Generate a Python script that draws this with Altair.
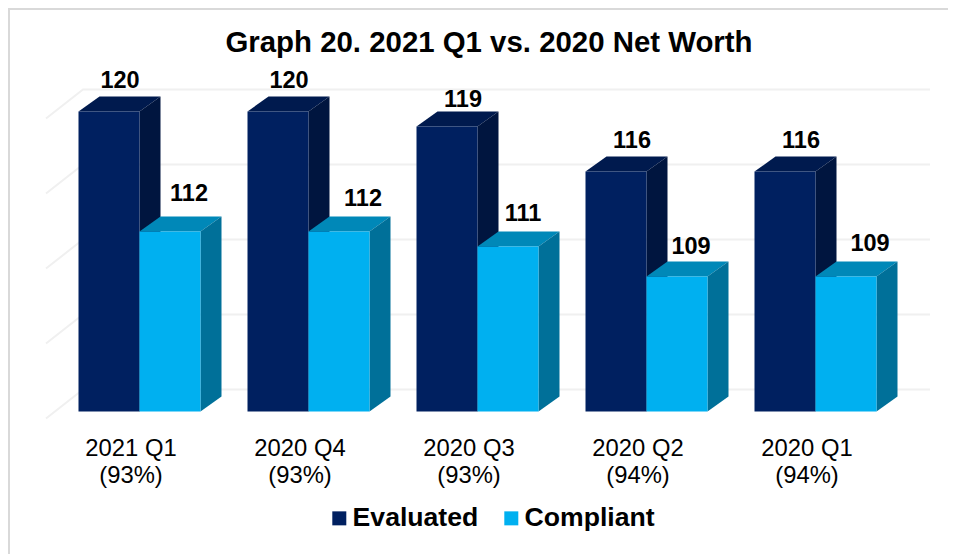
import altair as alt
import pandas as pd

categories = ["2021 Q1", "2020 Q4", "2020 Q3", "2020 Q2", "2020 Q1"]
shares = ["(93%)", "(93%)", "(93%)", "(94%)", "(94%)"]
evaluated = [120, 120, 119, 116, 116]
compliant = [112, 112, 111, 109, 109]
grid_levels = [100, 105, 110, 115, 120]

# Nudges of the hand-placed value labels, in pixels
eval_dx = [-19.5, -19.5, -14.5, -14.5, -14.5]
eval_dy = [24, 24, 20, 24, 24]
comp_dx = [49.5, 54.5, 45.5, 44.5, 54.5]
comp_dy = [31, 26, 26, 23, 26]

W, H = 940, 546
SLOT = 169.0      # px per category
UNIT = 15.0       # px per value unit
BASE = 100.0
X0, Y0 = 139.5 - 8, 411.5 - 8   # pixel of slot 0 / value BASE inside the chart
BAR = 61 / SLOT
DX = 21 / SLOT
DY = 1.0

xs = alt.Scale(domain=[-X0 / SLOT, (W - X0) / SLOT], range=[0, W], nice=False, zero=False)
ys = alt.Scale(domain=[BASE - (H - Y0) / UNIT, BASE + Y0 / UNIT], range=[H, 0], nice=False, zero=False)
X = lambda f: alt.X(f, type="quantitative", scale=xs, axis=None)
Y = lambda f: alt.Y(f, type="quantitative", scale=ys, axis=None)

series = [("Evaluated", evaluated, -BAR, "#002060", "#001a4e", "#00153f"),
          ("Compliant", compliant, 0.0, "#00B0F0", "#0088b8", "#007099")]

front, top, side = [], [], []
for name, values, off, *_ in series:
    for i, v in enumerate(values):
        l = i + off
        r = l + BAR
        key = f"{name}{i}"
        front.append(dict(s=name, x=l, x2=r, y=BASE, y2=v))
        top += [dict(s=name, k=key, y=v, x=l, x2=r),
                dict(s=name, k=key, y=v + DY, x=l + DX, x2=r + DX)]
        side += [dict(s=name, k=key, x=r, y=BASE, y2=v),
                 dict(s=name, k=key, x=r + DX, y=BASE + DY, y2=v + DY)]
front, top, side = map(pd.DataFrame, (front, top, side))

grid = []
for g in grid_levels:
    grid += [dict(g=g, o=0, x=(46 - 139.5) / SLOT, y=g - 0.47),
             dict(g=g, o=1, x=(83 - 139.5) / SLOT, y=g + 1.47),
             dict(g=g, o=2, x=(930 - 139.5) / SLOT, y=g + 1.47)]
grid = pd.DataFrame(grid)

labels = pd.DataFrame(
    [dict(x=i + eval_dx[i] / SLOT, y=v + eval_dy[i] / UNIT, t=str(v)) for i, v in enumerate(evaluated)] +
    [dict(x=i + comp_dx[i] / SLOT, y=v + comp_dy[i] / UNIT, t=str(v)) for i, v in enumerate(compliant)])

cats = pd.DataFrame(dict(x=[i - 8.5 / SLOT for i in range(5)], y=[BASE - 1.67] * 5,
                         t=[f"{c}\n{s}" for c, s in zip(categories, shares)]))

FONT = "Liberation Sans"
layers = []

layers.append(alt.Chart(pd.DataFrame(dict(a=[0]))).mark_rule(color="#d9d9d9", strokeWidth=2).encode(
    x=alt.value(1), y=alt.value(0), y2=alt.value(H)))
layers.append(alt.Chart(pd.DataFrame(dict(a=[0]))).mark_rule(color="#d9d9d9", strokeWidth=2).encode(
    x=alt.value(0), x2=alt.value(W), y=alt.value(1)))

layers.append(alt.Chart(grid).mark_line(color="#f0f0f0", strokeWidth=2).encode(
    x=X("x"), y=Y("y"), detail="g:N", order="o:Q"))

for name, _, _, c_front, c_top, c_side in series:
    layers.append(alt.Chart(top[top.s == name]).mark_area(orient="horizontal", color=c_top).encode(
        y=Y("y"), x=X("x"), x2="x2", detail="k:N"))
    layers.append(alt.Chart(side[side.s == name]).mark_area(color=c_side).encode(
        x=X("x"), y=Y("y"), y2="y2", detail="k:N"))
    layers.append(alt.Chart(front[front.s == name]).mark_bar(cornerRadius=0).encode(
        x=X("x"), x2="x2", y=Y("y"), y2="y2",
        color=alt.Color("s:N",
                        scale=alt.Scale(domain=["Evaluated", "Compliant"], range=["#002060", "#00B0F0"]),
                        legend=alt.Legend(title=None, orient="none", direction="horizontal",
                                          legendX=318, legendY=497, symbolType="square", symbolSize=196,
                                          symbolStrokeWidth=0, labelFont=FONT, labelFontSize=26.6,
                                          labelFontWeight="bold", labelColor="#000000", labelOffset=0,
                                          columnPadding=19))))

layers.append(alt.Chart(labels).mark_text(font=FONT, fontSize=23.5, fontWeight="bold", color="#000000",
                                          baseline="alphabetic", align="center").encode(
    x=X("x"), y=Y("y"), text="t:N"))
layers.append(alt.Chart(cats).mark_text(font=FONT, fontSize=23.8, color="#000000", baseline="top",
                                        align="center", lineBreak="\n", lineHeight=27.5).encode(
    x=X("x"), y=Y("y"), text="t:N"))

chart = alt.layer(*layers).properties(
    width=W, height=H,
    padding=0,
    autosize=alt.AutoSizeParams(type="none"),
    title=alt.TitleParams("Graph 20. 2021 Q1 vs. 2020 Net Worth", font=FONT, fontSize=29.4, fontWeight="bold",
                          color="#000000", anchor="middle", offset=0, baseline="alphabetic", dy=74, dx=11),
).resolve_scale(color="shared").configure_view(stroke=None)

chart.save("out.html", embed_options={"renderer": "svg", "actions": False})
